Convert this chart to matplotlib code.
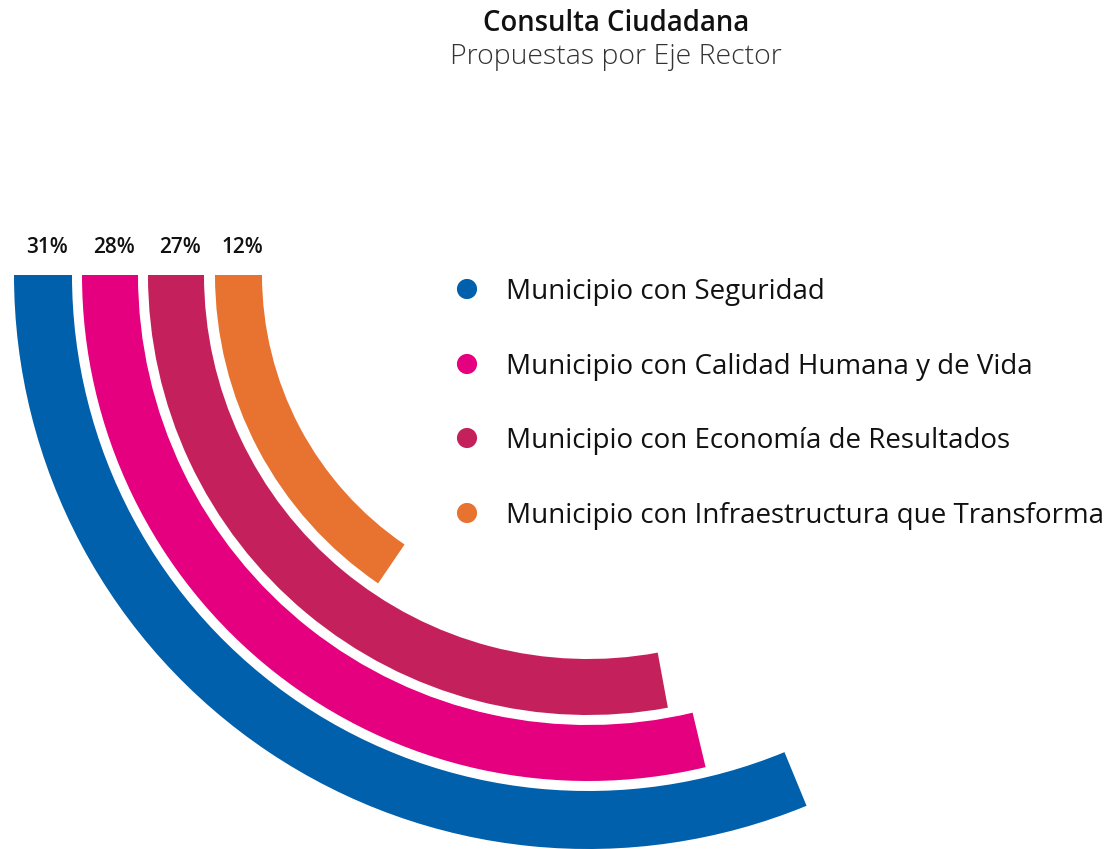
import matplotlib.pyplot as plt
from matplotlib.patches import Wedge

# data
categories = ["Municipio con Seguridad",
              "Municipio con Calidad Humana y de Vida",
              "Municipio con Economía de Resultados",
              "Municipio con Infraestructura que Transforma"]
percent = [31, 28, 27, 12]
colors = ["#0060AC", "#E4007E", "#C4215C", "#E8722F"]

title = "Consulta Ciudadana"
subtitle = "Propuestas por Eje Rector"

plt.rcParams['font.family'] = ['Open Sans', 'DejaVu Sans']

W, H = 1118, 849
fig = plt.figure(figsize=(W / 100, H / 100), dpi=100)
ax = fig.add_axes([0, 0, 1, 1])
ax.set_xlim(0, W)
ax.set_ylim(0, H)
ax.axis('off')

# ring geometry (pixels): outer radius and thickness of each ring
outer = [574, 506, 440, 373]
thick = [58, 56, 56, 47]
cx, cy = 588, H - 275
start = 180
# angular scale: degrees of sweep per percent, plus a base offset
deg_per_pct = 2.98
base = 20.0

for p, r, w, c in zip(percent, outer, thick, colors):
    sweep = base + deg_per_pct * p
    ax.add_patch(Wedge((cx, cy), r, start, start + sweep, width=w,
                       facecolor=c, edgecolor='none'))
    ax.text(cx - r + w / 2 + 4, H - 247, f"{p}%", ha='center', va='center',
            fontsize=15, fontweight='semibold', color='#111111')

# legend
leg_y = [289, 364, 438, 513]
for lab, c, y in zip(categories, colors, leg_y):
    ax.scatter([467], [H - y], s=210, color=c, edgecolors='none')
    ax.text(506, H - y - 3, lab, ha='left', va='center', fontsize=20,
            fontweight='medium', color='#111111')

ax.text(616, H - 23, title, ha='center', va='center', fontsize=19.8,
        fontweight='semibold', color='#111111')
ax.text(616, H - 57, subtitle, ha='center', va='center', fontsize=20.5,
        fontweight='light', color='#333333')

fig.savefig('out.png', dpi=100)
